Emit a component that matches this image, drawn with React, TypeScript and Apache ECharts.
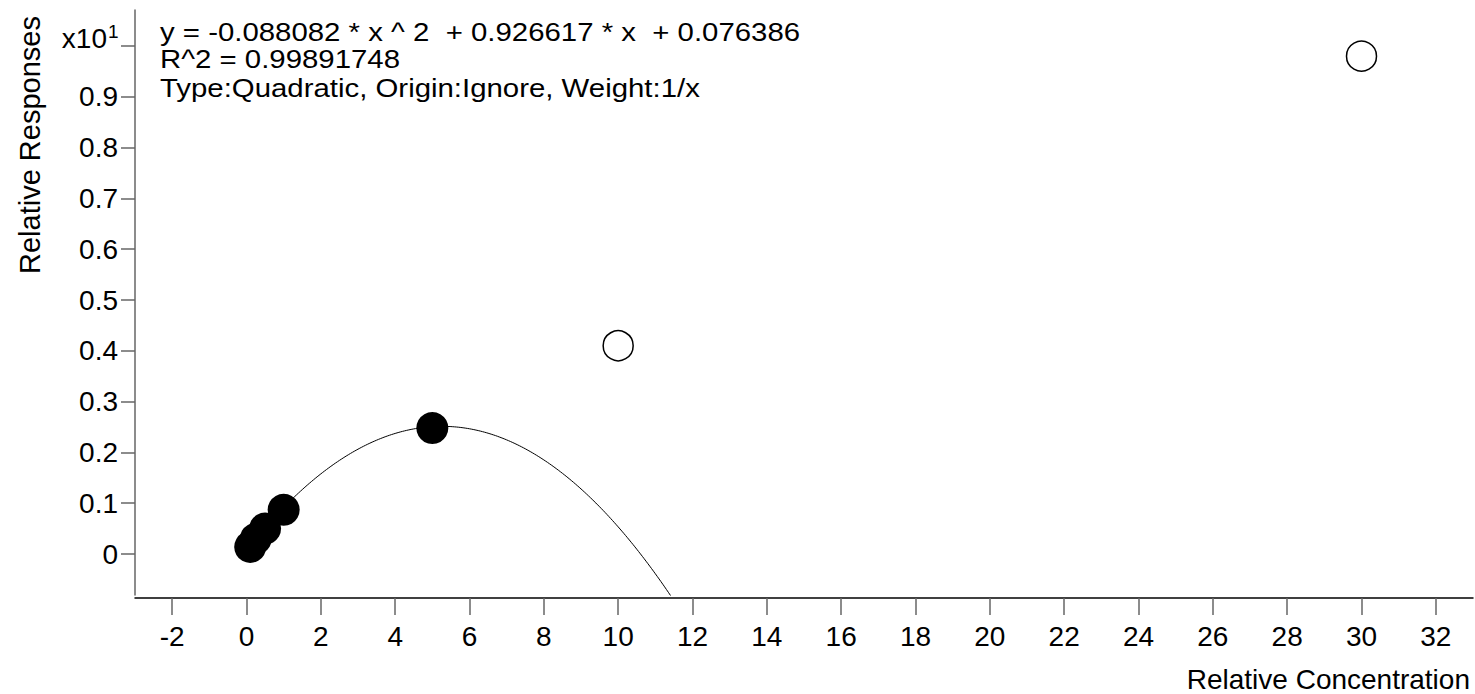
import React, { useEffect, useRef } from "react";
import * as echarts from "echarts";

// ---- data ----
const xTickValues = [-2, 0, 2, 4, 6, 8, 10, 12, 14, 16, 18, 20, 22, 24, 26, 28, 30, 32];
const yTickValues = [0, 0.1, 0.2, 0.3, 0.4, 0.5, 0.6, 0.7, 0.8, 0.9, 1.0];
const usedX = [0.1, 0.25, 0.5, 1, 5];
const usedY = [0.014, 0.03, 0.05, 0.087, 0.248]; // x10^1
const excludedX = [10, 30];
const excludedY = [0.41, 0.98]; // x10^1
const fitCoefficients = [-0.088082, 0.926617, 0.076386]; // a, b, c of the printed equation
const fitRange = [0.1, 11.8];
const equationText = "y = -0.088082 * x ^ 2 \u00a0+ 0.926617 * x \u00a0+ 0.076386";
const r2Text = "R^2 = 0.99891748";
const typeText = "Type:Quadratic, Origin:Ignore, Weight:1/x";
const yAxisName = "Relative Responses";
const xAxisName = "Relative Concentration";

const FONT = "'Liberation Sans', Arial, sans-serif";

export default function App() {
  const ref = useRef<HTMLDivElement>(null);
  useEffect(() => {
    const chart = echarts.init(ref.current!, null, { renderer: "svg" });
    const [a, b, c] = fitCoefficients;
    const curve: number[][] = [];
    for (let x = fitRange[0]; x <= fitRange[1] + 1e-9; x += 0.05) {
      curve.push([x, (a * x * x + b * x + c) / 10]);
    }
    const annot = (text: string, y: number) => ({
      type: "text",
      x: 160,
      y,
      scaleX: 1.13,
      style: { text, font: `26px ${FONT}`, fill: "#000", verticalAlign: "middle" },
    });
    chart.setOption({
      animation: false,
      backgroundColor: "#fff",
      grid: { left: 135, top: 10, width: 1338, height: 585 },
      xAxis: {
        type: "value",
        min: -3,
        max: 33,
        offset: 3,
        axisLine: { show: true, onZero: false, lineStyle: { color: "#000", width: 1.5 } },
        axisTick: { show: true, customValues: xTickValues, length: 17, lineStyle: { color: "#666", width: 1.5 } },
        axisLabel: {
          customValues: xTickValues,
          color: "#000",
          fontFamily: FONT,
          fontSize: 28,
          margin: 24,
        },
        splitLine: { show: false },
      },
      yAxis: {
        type: "value",
        min: -0.0807,
        max: 1.0709,
        axisLine: { show: true, onZero: false, lineStyle: { color: "#666", width: 1.5 } },
        axisTick: { show: true, customValues: yTickValues, length: 14, lineStyle: { color: "#666", width: 1.5 } },
        axisLabel: {
          customValues: yTickValues,
          color: "#000",
          fontFamily: FONT,
          fontSize: 28,
          margin: 17,
          formatter: (v: number) => (Math.abs(v - 1) < 1e-9 ? "" : v === 0 ? "0" : v.toFixed(1)),
        },
        splitLine: { show: false },
      },
      series: [
        {
          type: "line",
          data: curve,
          showSymbol: false,
          symbol: "none",
          lineStyle: { color: "#000", width: 1 },
          clip: true,
          z: 1,
        },
        {
          type: "scatter",
          data: usedX.map((x, i) => [x, usedY[i]]),
          symbol: "circle",
          symbolSize: 32,
          itemStyle: { color: "#000", opacity: 1 },
          z: 3,
        },
        {
          type: "scatter",
          data: excludedX.map((x, i) => [x, excludedY[i]]),
          symbol: "circle",
          symbolSize: 30,
          itemStyle: { color: "#fff", borderColor: "#000", borderWidth: 1.5, opacity: 1 },
          z: 3,
        },
      ],
      graphic: [
        {
          type: "text",
          x: 107,
          y: 38,
          style: { text: "x10", font: `28px ${FONT}`, fill: "#000", align: "right", verticalAlign: "middle" },
        },
        {
          type: "text",
          x: 108,
          y: 31,
          style: { text: "1", font: `19px ${FONT}`, fill: "#000", align: "left", verticalAlign: "middle" },
        },
        annot(equationText, 32),
        annot(r2Text, 59),
        annot(typeText, 88),
        {
          type: "text",
          x: 30,
          y: 145,
          rotation: Math.PI / 2,
          style: {
            text: yAxisName,
            font: `29px ${FONT}`,
            fill: "#000",
            align: "center",
            verticalAlign: "middle",
          },
        },
        {
          type: "text",
          x: 1470,
          y: 679,
          style: { text: xAxisName, font: `28px ${FONT}`, fill: "#000", align: "right", verticalAlign: "middle" },
        },
      ],
    });
    return () => chart.dispose();
  }, []);
  return <div ref={ref} style={{ width: 1475, height: 694, position: "absolute", left: 0, top: 0 }} />;
}
